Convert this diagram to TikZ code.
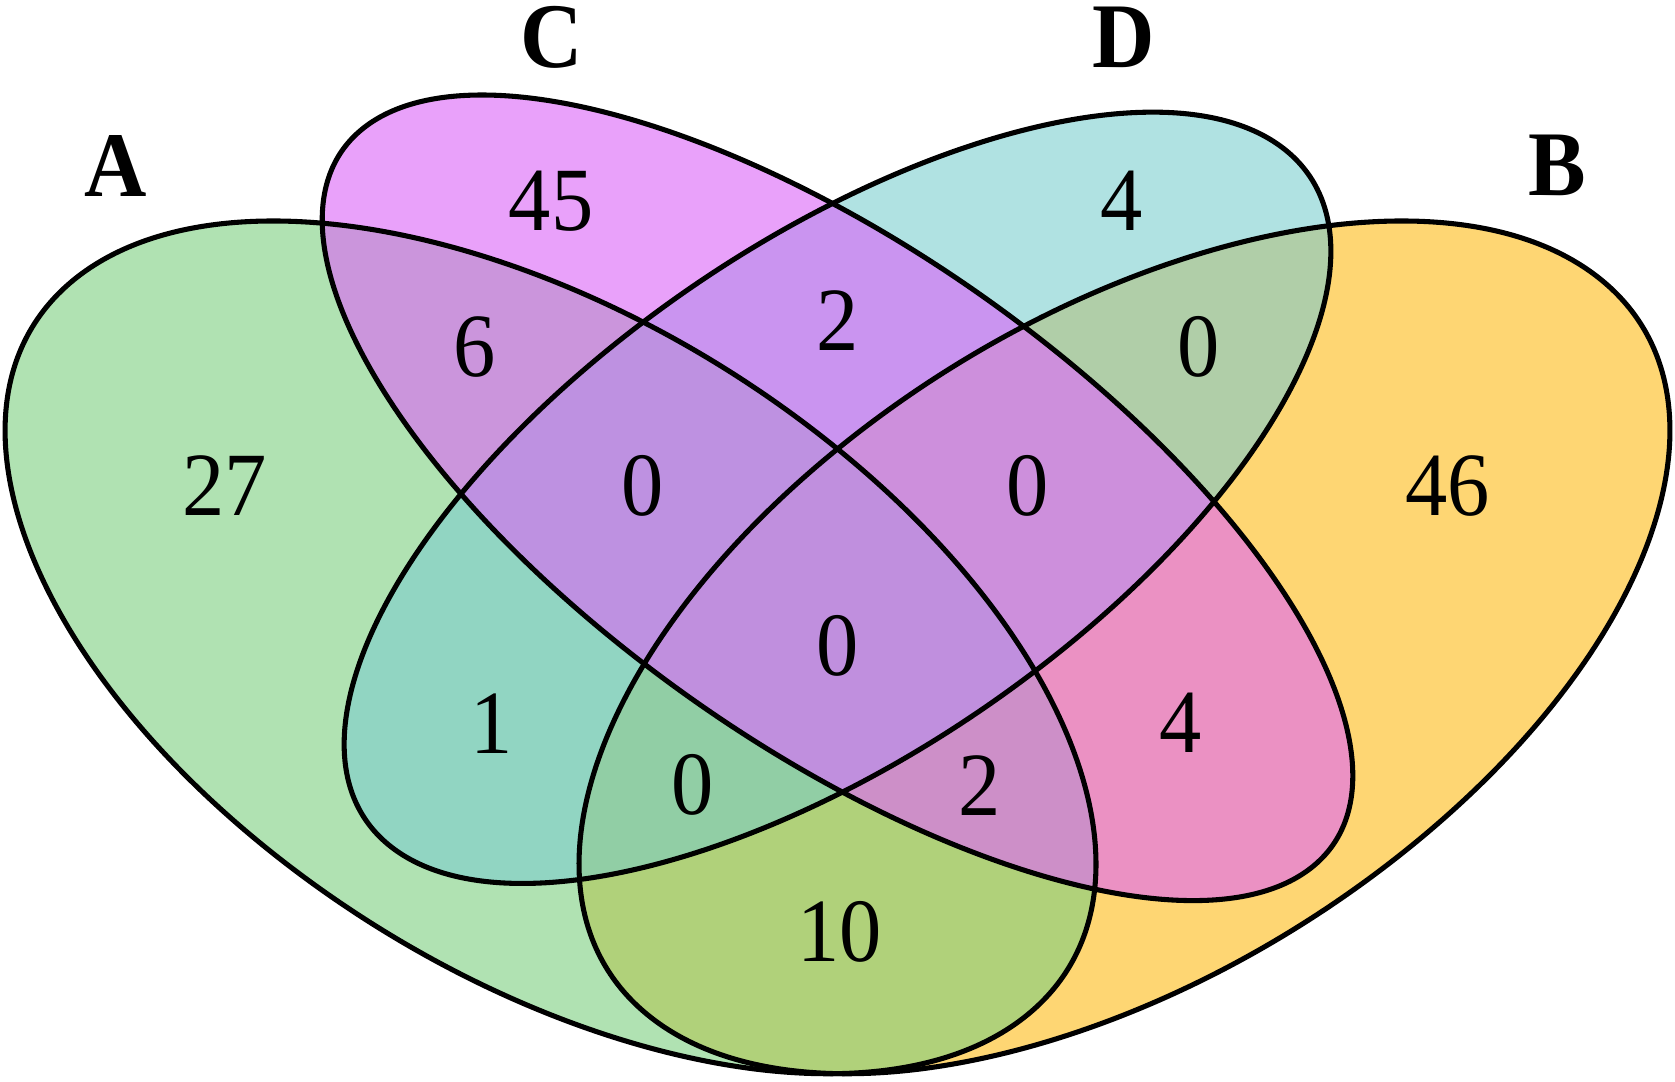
\documentclass[tikz,border=0pt]{standalone}
\usepackage{graphicx}
\usepackage{fontspec}
\setmainfont{Liberation Serif}
\definecolor{cA}{HTML}{B0E2B2}
\definecolor{cB}{HTML}{FED673}
\definecolor{cC}{HTML}{E9A1FA}
\definecolor{cD}{HTML}{B0E2E2}
\definecolor{cAB}{HTML}{B0D17A}
\definecolor{cAC}{HTML}{CB95DC}
\definecolor{cAD}{HTML}{91D5C2}
\definecolor{cBC}{HTML}{EB91C3}
\definecolor{cBD}{HTML}{B0CEA8}
\definecolor{cCD}{HTML}{CA94F0}
\definecolor{cABC}{HTML}{CD8FC8}
\definecolor{cABD}{HTML}{91CEA5}
\definecolor{cACD}{HTML}{BE91E1}
\definecolor{cBCD}{HTML}{CD8FDC}
\definecolor{cABCD}{HTML}{C08FDE}
\newcommand\ellA[1]{\path[#1,rotate around={-45:(0.35,0.47)}] (0.35,0.47) ellipse (0.35 and 0.2);}
\newcommand\ellB[1]{\path[#1,rotate around={45:(0.65,0.47)}] (0.65,0.47) ellipse (0.35 and 0.2);}
\newcommand\ellC[1]{\path[#1,rotate around={-45:(0.5,0.57)}] (0.5,0.57) ellipse (0.35 and 0.15);}
\newcommand\ellD[1]{\path[#1,rotate around={45:(0.5,0.57)}] (0.5,0.57) ellipse (0.33 and 0.155);}
\newcommand\vstretch[1]{\scalebox{1}[1.07]{#1}}
\begin{document}
\begin{tikzpicture}
\tikzset{
  num/.style={font=\fontsize{22.5}{27}\selectfont, inner sep=0pt},
  setlabel/.style={font=\fontsize{23}{28}\selectfont\bfseries, inner sep=0pt},
  outline/.style={draw=black, line width=1.35pt}
}
\useasboundingbox (0,0) rectangle (15.68,10.12);
\begin{scope}[shift={(-1.115,-2.52)}, xscale=17.91, yscale=14]
  % single sets
  \ellA{fill=cA}
  \ellB{fill=cB}
  \ellC{fill=cC}
  \ellD{fill=cD}
  % pairs
  \begin{scope}\ellA{clip}\ellB{fill=cAB}\end{scope}
  \begin{scope}\ellA{clip}\ellC{fill=cAC}\end{scope}
  \begin{scope}\ellA{clip}\ellD{fill=cAD}\end{scope}
  \begin{scope}\ellB{clip}\ellC{fill=cBC}\end{scope}
  \begin{scope}\ellB{clip}\ellD{fill=cBD}\end{scope}
  \begin{scope}\ellC{clip}\ellD{fill=cCD}\end{scope}
  % triples
  \begin{scope}\ellA{clip}\ellB{clip}\ellC{fill=cABC}\end{scope}
  \begin{scope}\ellA{clip}\ellB{clip}\ellD{fill=cABD}\end{scope}
  \begin{scope}\ellA{clip}\ellC{clip}\ellD{fill=cACD}\end{scope}
  \begin{scope}\ellB{clip}\ellC{clip}\ellD{fill=cBCD}\end{scope}
  % all four
  \begin{scope}\ellA{clip}\ellB{clip}\ellC{clip}\ellD{fill=cABCD}\end{scope}
  % outlines
  \ellA{outline}
  \ellB{outline}
  \ellC{outline}
  \ellD{outline}
\end{scope}
% set labels
\node[setlabel] (labA) at (1.08,8.57) {\vstretch{A}};
\node[setlabel] (labC) at (5.16,9.77) {\vstretch{C}};
\node[setlabel] (labD) at (10.52,9.77) {\vstretch{D}};
\node[setlabel] (labB) at (14.58,8.57) {\vstretch{B}};
% counts
\node[num] (nC) at (5.16,8.24) {\vstretch{45}};
\node[num] (nD) at (10.50,8.24) {\vstretch{4}};
\node[num] (nA) at (2.10,5.57) {\vstretch{27}};
\node[num] (nB) at (13.55,5.57) {\vstretch{46}};
\node[num] (nAC) at (4.44,6.87) {\vstretch{6}};
\node[num] (nCD) at (7.84,7.12) {\vstretch{2}};
\node[num] (nBD) at (11.22,6.87) {\vstretch{0}};
\node[num] (nACD) at (6.02,5.57) {\vstretch{0}};
\node[num] (nBCD) at (9.62,5.57) {\vstretch{0}};
\node[num] (nABCD) at (7.84,4.07) {\vstretch{0}};
\node[num] (nAD) at (4.60,3.35) {\vstretch{1}};
\node[num] (nBC) at (11.05,3.35) {\vstretch{4}};
\node[num] (nABD) at (6.48,2.77) {\vstretch{0}};
\node[num] (nABC) at (9.17,2.77) {\vstretch{2}};
\node[num] (nAB) at (7.86,1.40) {\vstretch{10}};
\end{tikzpicture}
\end{document}
